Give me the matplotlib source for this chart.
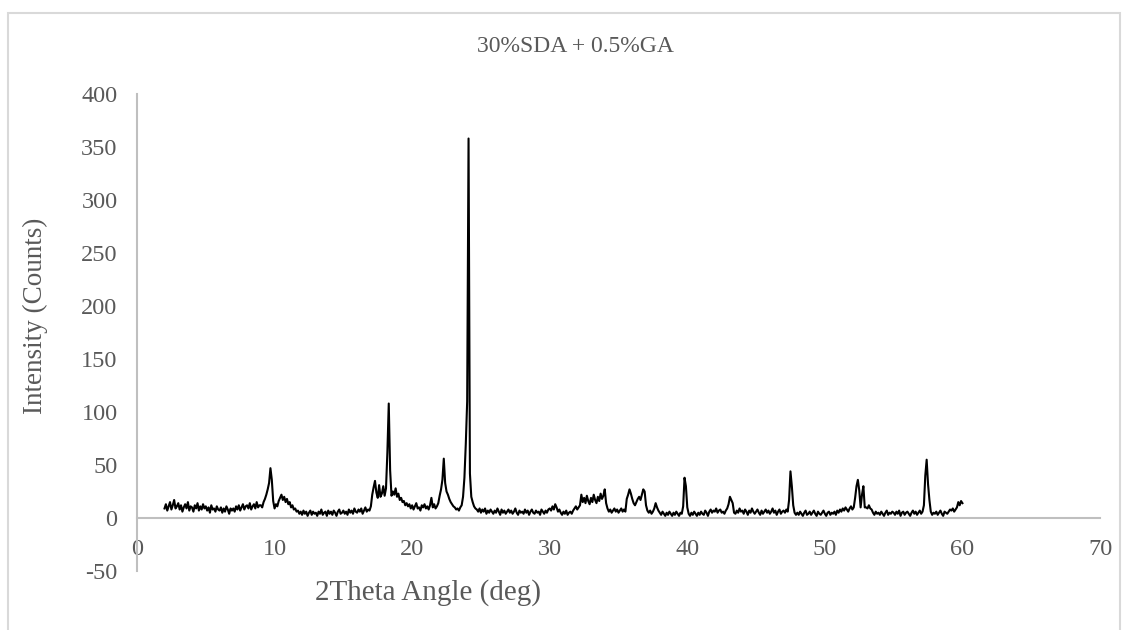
import numpy as np
import matplotlib
matplotlib.use("Agg")
import matplotlib.pyplot as plt
from matplotlib.patches import Rectangle

plt.rcParams['font.family'] = ['Liberation Serif', 'DejaVu Serif']
plt.rcParams['axes.unicode_minus'] = False

# Diffractogram: 2-theta from 2.0 to 60.0 deg in 0.1 deg steps
theta_start = 2.0
theta_step = 0.1

# Intensity counts, one row per degree (k.0 ... k.9)
counts_rows = [
    [9, 13, 7, 11, 15, 8, 12, 17, 9, 11],        # 2
    [14, 8, 12, 6, 10, 13, 9, 15, 7, 11],        # 3
    [10, 6, 12, 9, 14, 7, 11, 8, 13, 9],         # 4
    [11, 7, 10, 5, 12, 8, 9, 6, 11, 8],          # 5
    [7, 10, 5, 9, 6, 11, 8, 4, 9, 7],            # 6
    [9, 6, 11, 8, 12, 7, 10, 13, 8, 11],         # 7
    [12, 9, 14, 8, 11, 13, 9, 15, 10, 12],       # 8
    [12, 10, 15, 18, 22, 27, 33, 47, 36, 16],    # 9
    [9, 13, 11, 16, 19, 22, 17, 20, 15, 18],     # 10
    [13, 15, 10, 12, 8, 9, 6, 7, 4, 6],          # 11
    [3, 7, 4, 6, 2, 5, 7, 3, 6, 4],              # 12
    [5, 2, 6, 4, 8, 3, 5, 6, 2, 7],              # 13
    [4, 6, 3, 7, 5, 2, 6, 8, 4, 5],              # 14
    [7, 4, 6, 3, 8, 5, 7, 4, 9, 6],              # 15
    [5, 8, 6, 9, 4, 7, 10, 6, 8, 7],             # 16
    [11, 22, 29, 35, 24, 19, 31, 20, 23, 30],    # 17
    [21, 28, 62, 108, 45, 21, 25, 22, 28, 20],   # 18
    [23, 17, 19, 15, 16, 12, 14, 11, 13, 9],     # 19
    [12, 8, 11, 14, 9, 10, 7, 12, 10, 13],       # 20
    [9, 11, 8, 12, 19, 10, 13, 9, 11, 14],       # 21
    [21, 27, 36, 56, 33, 25, 22, 18, 15, 13],    # 22
    [11, 10, 8, 9, 7, 10, 12, 20, 38, 70],       # 23
    [110, 358, 42, 20, 15, 11, 9, 8, 6, 9],      # 24
    [5, 8, 6, 9, 4, 7, 5, 8, 6, 4],              # 25
    [7, 5, 9, 6, 3, 8, 5, 7, 4, 6],              # 26
    [8, 5, 7, 4, 6, 9, 5, 3, 7, 5],              # 27
    [6, 4, 8, 5, 7, 3, 6, 8, 5, 4],              # 28
    [7, 5, 6, 3, 8, 6, 4, 7, 5, 8],              # 29
    [9, 7, 11, 8, 13, 10, 6, 8, 5, 3],           # 30
    [6, 4, 7, 3, 5, 6, 4, 7, 9, 11],             # 31
    [8, 10, 12, 22, 15, 19, 14, 21, 16, 13],     # 32
    [19, 15, 22, 17, 14, 20, 16, 23, 18, 21],    # 33
    [27, 14, 9, 6, 8, 5, 7, 9, 6, 8],            # 34
    [5, 7, 9, 6, 8, 6, 18, 22, 27, 23],          # 35
    [18, 14, 12, 15, 18, 20, 17, 22, 27, 25],    # 36
    [12, 7, 5, 7, 4, 6, 9, 14, 10, 7],           # 37
    [5, 3, 6, 4, 2, 5, 3, 6, 4, 2],              # 38
    [5, 3, 6, 4, 2, 5, 4, 11, 38, 30],           # 39
    [10, 4, 2, 5, 3, 6, 4, 2, 5, 3],             # 40
    [6, 4, 3, 7, 5, 2, 6, 8, 5, 7],              # 41
    [6, 9, 5, 7, 8, 5, 6, 4, 7, 9],              # 42
    [13, 20, 17, 14, 5, 4, 7, 5, 9, 6],          # 43
    [7, 4, 8, 6, 3, 7, 5, 9, 6, 4],              # 44
    [6, 8, 5, 3, 7, 4, 6, 8, 5, 7],              # 45
    [4, 6, 9, 5, 7, 3, 6, 8, 4, 6],              # 46
    [7, 5, 8, 6, 17, 44, 30, 12, 5, 3],          # 47
    [5, 3, 6, 4, 2, 5, 7, 3, 4, 6],              # 48
    [3, 5, 7, 4, 2, 6, 4, 3, 5, 7],              # 49
    [4, 2, 5, 6, 3, 5, 4, 6, 3, 7],              # 50
    [5, 8, 6, 9, 7, 10, 8, 6, 9, 11],            # 51
    [8, 10, 19, 30, 36, 26, 10, 22, 30, 10],     # 52
    [10, 9, 12, 9, 8, 5, 3, 6, 4, 5],            # 53
    [3, 6, 4, 2, 5, 7, 3, 5, 4, 6],              # 54
    [5, 3, 6, 4, 7, 2, 5, 6, 3, 5],              # 55
    [6, 4, 2, 5, 7, 4, 6, 3, 5, 7],              # 56
    [4, 6, 12, 40, 55, 32, 17, 6, 3, 5],         # 57
    [4, 6, 3, 5, 7, 4, 2, 6, 5, 4],              # 58
    [6, 8, 7, 9, 6, 8, 10, 15, 12, 16],          # 59
    [14],                                        # 60
]

title_text = "30%SDA + 0.5%GA"
x_label = "2Theta Angle (deg)"
y_label = "Intensity (Counts)"
x_ticks = [0, 10, 20, 30, 40, 50, 60, 70]
y_ticks = [-50, 0, 50, 100, 150, 200, 250, 300, 350, 400]

counts = np.array([v for row in counts_rows for v in row], dtype=float)
two_theta = theta_start + theta_step * np.arange(len(counts))

W, H = 1128, 630
fig = plt.figure(figsize=(W / 100, H / 100), dpi=100)
fig.patch.set_facecolor('white')

# outer chart border
fig.patches.append(Rectangle((8 / W, -0.05), 1112 / W, 1 - 13 / H + 0.05,
                             transform=fig.transFigure, fill=False,
                             edgecolor='#d9d9d9', linewidth=1.5))

ax = fig.add_axes([137 / W, 1 - 571 / H, 963 / W, (571 - 94) / H])
ax.plot(two_theta, counts, color='black', linewidth=1.5)

ax.set_xlim(0, 70)
ax.set_ylim(-50, 400)
ax.set_xticks(x_ticks)
ax.set_yticks(y_ticks)

grey_txt = '#595959'
axis_grey = '#bfbfbf'
for side in ('top', 'right'):
    ax.spines[side].set_visible(False)
ax.spines['left'].set_color(axis_grey)
ax.spines['left'].set_linewidth(1.5)
ax.spines['bottom'].set_position(('data', 0))
ax.spines['bottom'].set_color(axis_grey)
ax.spines['bottom'].set_linewidth(1.5)

ax.tick_params(axis='both', length=0, labelsize=17.5, labelcolor=grey_txt)
ax.tick_params(axis='x', pad=15)
ax.tick_params(axis='y', pad=14)

fig.text(575 / W, 1 - 47 / H, title_text, ha='center', va='center',
         fontsize=17, color=grey_txt)
fig.text(428 / W, 1 - 593 / H, x_label, ha='center', va='center',
         fontsize=21, color=grey_txt)
fig.text(35 / W, 1 - 316 / H, y_label, ha='center', va='center',
         rotation=90, fontsize=19.5, color=grey_txt)

fig.savefig('out.png', dpi=100, facecolor='white')
